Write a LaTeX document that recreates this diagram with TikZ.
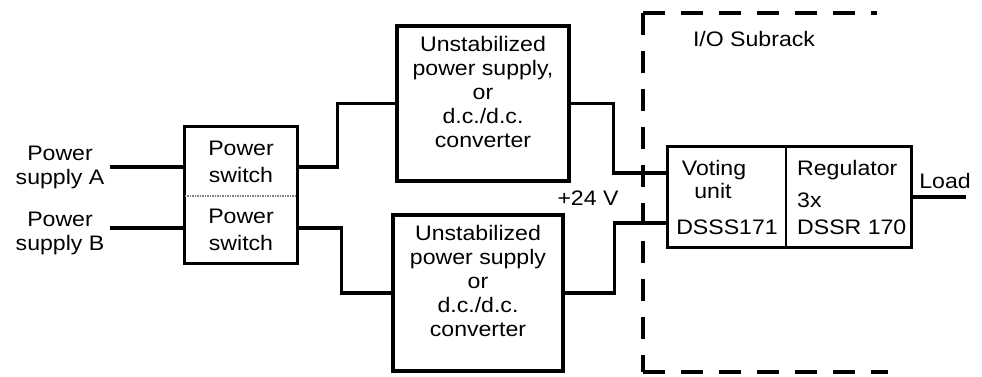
\documentclass[tikz,border=0pt]{standalone}
\usepackage{fontspec}
\setmainfont{Liberation Sans}[FakeStretch=1.1]
\begin{document}
\begin{tikzpicture}[x=1pt, y=-1pt,
    every node/.style={font=\fontsize{21}{24}\selectfont, inner sep=0pt},
    wire/.style={line width=3.2pt},
    blk/.style={draw, line width=3.2pt, align=center},
    txt/.style={align=center},
    rack/.style={line width=3.2pt, dash pattern=on 22pt off 16pt}]
    \useasboundingbox (0,0) rectangle (982,377);

    % Supplies
    \node[txt] (psA) at (60,167) {Power\\supply A};
    \node[txt] (psB) at (60,233) {Power\\supply B};
    \coordinate (inA) at (110,167);
    \coordinate (inB) at (110,228);

    % Power switches (one box, dotted split)
    \node[txt, minimum width=112pt, minimum height=69pt] (swA) at (241,161.5) {Power\\[3pt]switch};
    \node[txt, minimum width=112pt, minimum height=67pt] (swB) at (241,229.5) {Power\\[3pt]switch};
    \draw[wire] (swA.north west) rectangle (swB.south east);
    \draw[gray, line width=1.5pt, densely dotted] (swA.south west) -- (swA.south east);

    % Converters
    \node[blk, minimum width=172pt, minimum height=155pt] (ucA) at (483,103.5)
        {Unstabilized\\power supply,\\or\\d.c./d.c.\\converter\\\mbox{}};
    \node[blk, minimum width=170pt, minimum height=156pt] (ucB) at (478,293)
        {Unstabilized\\power supply\\or\\d.c./d.c.\\converter\\\mbox{}};

    % Voting unit and regulator
    \node[minimum width=118pt, minimum height=100pt] (vote) at (727,197) {};
    \node[minimum width=125pt, minimum height=100pt] (reg) at (848.5,197) {};
    \draw[wire] (vote.north west) rectangle (reg.south east);
    \draw[line width=1.8pt] (vote.north east) -- (vote.south east);
    \node[anchor=base] (voteT) at (714,175) {Voting};
    \node[anchor=base] (voteU) at (713,198) {unit};
    \node[anchor=base] (voteId) at (727,234) {DSSS171};
    \node[anchor=base west] (regT) at (797,175) {Regulator};
    \node[anchor=base west] (regN) at (797,207) {3x};
    \node[anchor=base west] (regId) at (797,234) {DSSR 170};

    % Labels
    \node[anchor=base] (volt) at (588,205) {+24 V};
    \node[anchor=base] (rackT) at (754,47) {I/O Subrack};
    \node[anchor=base] (load) at (945,188) {Load};
    \coordinate (loadEnd) at (966,197);

    % Wiring
    \draw[wire] (inA) -- (swA.west |- inA);
    \draw[wire] (inB) -- (swB.west |- inB);
    \draw[wire] (swA.east |- inA) -- ++(40,0) |- (ucA.west);
    \draw[wire] (swB.east |- inB) -- ++(44,0) |- (ucB.west);
    \draw[wire] (ucA.east) -- ++(43,0) |- ([yshift=24pt]vote.west);
    \draw[wire] (ucB.east) -- ++(50,0) |- ([yshift=-26pt]vote.west);
    \draw[wire] (reg.east) -- (loadEnd);

    % Subrack outline
    \draw[rack] (643,13) -- (877,13);
    \draw[rack] (643,13) -- (643,372);
    \draw[rack] (643,372) -- (888,372);
\end{tikzpicture}
\end{document}
